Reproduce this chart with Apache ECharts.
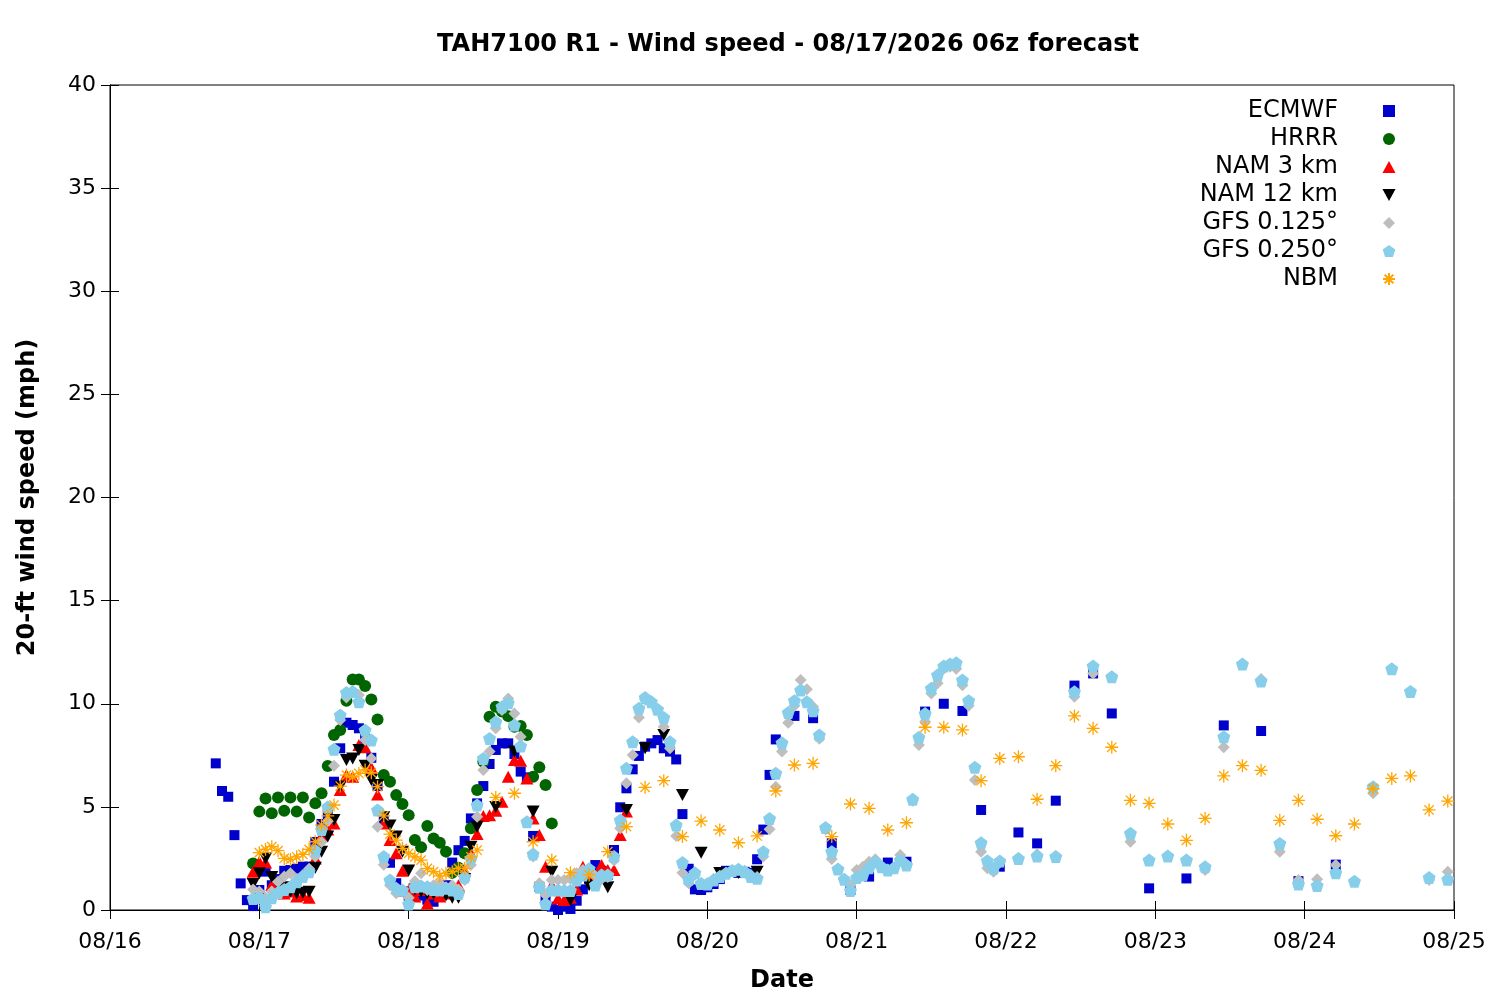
<!DOCTYPE html>
<html>
<head>
<meta charset="utf-8">
<script src="https://cdn.jsdelivr.net/npm/echarts@6/dist/echarts.min.js"></script>
<style>
  html, body { margin: 0; padding: 0; background: #fff; }
  #chart { width: 1500px; height: 1000px; }
</style>
</head>
<body>
<div id="chart"></div>
<script>
// hours counted from 08/16 00:00 local
var tickLabels = ['08/16', '08/17', '08/18', '08/19', '08/20', '08/21', '08/22', '08/23', '08/24', '08/25'];

// ECMWF: hourly from h17, 3-hourly from h110, 6-hourly from h167
var ecmwfHourly = [
  7.11, 5.77, 5.49, 3.63, 1.29, 0.48, 0.19, 0.97, 1.86, 1.2,
  1.5, 1.9, 1.94, 2.0, 2.1, 2.1, 3.3, 4.17, 4.65, 6.22,
  7.84, 9.08, 8.97, 8.81, 8.3, 7.38, 6.01, 4.3, 2.29, 1.3,
  0.9, 0.7, 0.97, 0.7, 0.5, 0.4, 0.9, 1.2, 2.3, 2.9,
  3.35, 4.44, 5.17, 6.01, 7.08, 7.76, 8.08, 8.08, 7.56, 6.71,
  6.43, 3.59, 1.13, 0.6, 0.16, 0.0, 0.16, 0.05, 0.45, 1.0,
  1.5, 2.18, 1.9, 1.7, 2.91, 4.98, 5.9, 6.82, 7.47, 7.92,
  8.08, 8.24, 7.84, 7.68, 7.3, 4.65, 2.0, 1.0, 0.97, 1.1,
  1.26, 1.5, 1.9, 1.85, 1.8, 1.85, 1.8, 2.46, 3.9, 6.55,
  8.27
];
var ecmwf3h = [9.41, 9.3, 3.23, 0.97, 1.62, 2.3, 2.34, 9.62, 10.0, 9.65, 4.85, 2.1, 3.76, 3.23, 5.3, 10.88, 11.47, 9.53];
var ecmwf6h = [1.05, 1.53, 8.95, 8.68, 1.4, 2.2];

// HRRR: hourly from h23
var hrrrHourly = [
  2.26, 4.77, 5.41, 4.69, 5.46, 4.81, 5.46, 4.77, 5.46, 4.49,
  5.17, 5.66, 6.98, 8.48, 8.73, 10.15, 11.18, 11.18, 10.86, 10.21,
  9.24, 6.54, 6.22, 5.57, 5.14, 4.6, 3.39, 3.04, 4.07, 3.47,
  3.26, 2.83, 1.8, 2.05, 2.75, 3.96, 5.82, 7.19, 9.37, 9.86,
  9.62, 9.4, 8.89, 8.92, 8.48, 6.46, 6.92, 6.06, 4.2
];

// NAM 3 km: hourly from h23
var nam3Hourly = [
  1.86, 2.34, 2.3, 1.21, 0.9, 0.8, 0.9, 0.65, 0.73, 0.6,
  2.5, 3.6, 3.9, 4.2, 5.82, 6.54, 6.46, 8.0, 7.89, 6.9,
  5.6, 4.2, 3.4, 2.75, 1.9, 0.97, 0.65, 0.97, 0.32, 0.8,
  0.65, 0.8, 0.9, 1.2, 1.9, 2.75, 3.68, 4.56, 4.6, 4.81,
  5.25, 6.46, 7.27, 7.24, 6.38, 4.44, 3.64, 2.1, 1.2, 0.56,
  0.48, 0.6, 1.0, 2.1, 1.78, 1.6, 2.18, 1.94, 1.94, 3.64,
  4.77
];

// NAM 12 km: hourly from h23, 3-hourly from h62
var nam12Hourly = [
  1.26, 1.78, 2.5, 1.6, 1.3, 1.1, 0.9, 0.81, 0.84, 0.89,
  2.05, 2.83, 3.56, 4.36, 5.98, 7.27, 7.35, 7.76, 7.0, 6.3,
  6.06, 4.5, 4.1, 3.56, 2.83, 1.92, 1.0, 0.9, 0.8, 0.8,
  0.9, 0.7, 0.6, 0.6, 1.5, 3.07, 4.04
];
var nam12_3h = [5.0, 7.68, 4.77, 1.86, 0.48, 1.2, 1.1, 4.85, 7.84, 8.48, 5.58, 2.78, 1.8, 1.8, 1.86];

// GFS 0.125: hourly from h23, 3-hourly from h146
var gfs125Hourly = [
  1.0, 0.9, 0.6, 0.9, 1.37, 1.62, 1.78, 1.5, 1.7, 2.0,
  2.6, 3.3, 4.3, 7.0, 9.21, 10.3, 10.6, 10.42, 8.24, 7.35,
  4.04, 2.2, 1.2, 0.81, 0.9, 0.6, 1.4, 1.78, 0.97, 1.2,
  1.3, 1.1, 1.2, 1.0, 1.45, 2.18, 4.52, 6.79, 7.68, 8.81,
  9.7, 10.26, 9.53, 8.4, 4.28, 2.59, 1.3, 0.73, 1.45, 1.45,
  1.45, 1.5, 1.78, 1.94, 1.94, 1.62, 1.5, 1.6, 2.4, 3.96,
  6.14, 7.52, 9.33, 10.2, 10.1, 9.73, 8.89, 7.84, 3.59, 1.81,
  1.3, 1.7, 1.3, 1.3, 1.5, 1.65, 1.8, 1.9, 1.95, 1.9,
  1.7, 1.6, 2.59, 3.91, 5.98, 7.68, 9.08, 9.9, 11.15, 10.7,
  9.85, 8.3, 3.9, 2.47, 1.99, 1.49, 1.21, 1.94, 2.1, 2.34,
  2.46, 2.1, 1.94, 2.05, 2.67, 2.2, 5.3, 8.0, 9.13, 10.5,
  11.0, 11.7, 11.8, 11.7, 10.9, 9.9, 6.3, 2.83, 2.02, 1.86,
  2.3
];
var gfs125_3h = [2.5, 2.7, 2.6, 10.34, 11.47, 11.31, 3.31, 2.42, 2.62, 2.42, 1.94, 7.89, 11.93, 11.2, 2.83, 1.45, 1.49, 2.18, 1.39, 5.66, 11.7, 10.6, 1.45, 1.86];

// GFS 0.250: hourly from h23, 3-hourly from h146
var gfs250Hourly = [
  0.56, 0.6, 0.16, 0.6, 0.85, 1.0, 1.13, 1.37, 1.62, 1.86,
  2.9, 3.9, 5.0, 7.8, 9.45, 10.54, 10.59, 10.1, 8.73, 8.24,
  4.85, 2.59, 1.45, 1.05, 0.97, 0.29, 1.13, 1.16, 1.13, 1.0,
  0.97, 1.05, 0.97, 0.8, 1.6, 2.5, 5.09, 7.35, 8.32, 9.13,
  9.86, 10.05, 8.97, 7.95, 4.28, 2.71, 1.1, 0.3, 0.97, 0.97,
  0.94, 0.94, 1.45, 1.7, 2.0, 1.21, 1.7, 1.7, 2.59, 4.36,
  6.87, 8.16, 9.78, 10.3, 10.1, 9.73, 9.33, 8.16, 4.12, 2.3,
  1.49, 1.81, 1.29, 1.26, 1.45, 1.62, 1.78, 1.91, 1.97, 1.86,
  1.62, 1.54, 2.83, 4.44, 6.63, 8.11, 9.57, 10.15, 10.67, 10.1,
  9.66, 8.48, 4.0, 2.83, 1.99, 1.49, 0.94, 1.58, 1.7, 2.05,
  2.34, 2.1, 1.94, 2.05, 2.42, 2.18, 5.37, 8.37, 9.53, 10.75,
  11.39, 11.83, 11.93, 11.99, 11.15, 10.15, 6.92, 3.26, 2.39, 2.02,
  2.37
];
var gfs250_3h = [2.5, 2.62, 2.59, 10.58, 11.83, 11.31, 3.72, 2.42, 2.62, 2.42, 2.1, 8.4, 11.93, 11.1, 3.23, 1.26, 1.19, 1.81, 1.39, 5.98, 11.7, 10.6, 1.58, 1.49];

// NBM: hourly from h24, 3-hourly from h62
var nbmHourly = [
  2.78, 2.94, 3.07, 2.88, 2.5, 2.45, 2.58, 2.7, 2.94, 3.31,
  4.12, 4.56, 5.09, 6.01, 6.54, 6.46, 6.62, 6.79, 6.66, 5.98,
  4.56, 3.68, 3.39, 2.99, 2.75, 2.58, 2.42, 2.02, 1.86, 1.65,
  1.78, 1.86, 2.02, 2.02, 2.58, 2.9
];
var nbm3h = [
  5.46, 5.66, 3.31, 2.42, 1.81, 1.7, 2.83, 4.04, 5.95, 6.27,
  3.56, 4.31, 3.88, 3.26, 3.59, 5.77, 7.03, 7.11, 3.56, 5.14,
  4.93, 3.88, 4.23, 8.86, 8.86, 8.73, 6.27, 7.35, 7.43, 5.37,
  7.0, 9.41, 8.81, 7.89, 5.32, 5.17, 4.17, 3.38, 4.44, 6.5,
  7.0, 6.77, 4.35, 5.32, 4.4, 3.6, 4.17, 5.88, 6.38, 6.5,
  4.85, 5.28
];

function seg(start, step, vals) {
  return vals.map(function (v, i) { return [start + i * step, v]; });
}

var FONT = 'DejaVu Sans';
// point shapes as paths so the legend keeps their aspect
var square = 'path://M-5,-5L5,-5L5,5L-5,5Z';
var upTri = 'path://M0,-6L6,5L-6,5Z';
var downTri = 'path://M-6,-5L6,-5L0,6Z';
var diamond = 'path://M0,-6L6,0L0,6L-6,0Z';
var pentagon = 'path://M0,-10L9.51,-3.09L5.88,8.09L-5.88,8.09L-9.51,-3.09Z';
var asterisk = 'path://M-6,0L6,0M0,-6L0,6M-4.3,-4.3L4.3,4.3M-4.3,4.3L4.3,-4.3';

var chart = echarts.init(document.getElementById('chart'));

var option = {
  backgroundColor: '#fff',
  animation: false,
  textStyle: { fontFamily: FONT },
  title: {
    text: 'TAH7100 R1 - Wind speed - 08/17/2026 06z forecast',
    left: 783,
    textAlign: 'center',
    top: 28,
    textStyle: { fontFamily: FONT, fontSize: 24, fontWeight: 'bold', color: '#000' }
  },
  legend: {
    orient: 'vertical',
    align: 'right',
    right: 99,
    top: 92,
    itemWidth: 92,
    itemHeight: 12,
    itemGap: 0,
    symbolKeepAspect: true,
    selectedMode: false,
    textStyle: { fontFamily: FONT, fontSize: 24, color: '#000', width: 200, lineHeight: 28 },
    data: ['ECMWF', 'HRRR', 'NAM 3 km', 'NAM 12 km', 'GFS 0.125°', 'GFS 0.250°', 'NBM']
  },
  grid: { left: 110, top: 85, width: 1344, height: 825, show: true, borderColor: '#000', borderWidth: 1 },
  xAxis: [{
    type: 'value', min: 0, max: 216, interval: 24,
    name: 'Date', nameLocation: 'middle', nameGap: 59,
    nameTextStyle: { fontFamily: FONT, fontSize: 24, fontWeight: 'bold', color: '#000' },
    axisLine: { lineStyle: { color: '#000', width: 1 } },
    axisTick: { inside: true, length: 9, lineStyle: { color: '#000' } },
    axisLabel: {
      fontFamily: FONT, fontSize: 22, color: '#000', margin: 21,
      formatter: function (v) { return tickLabels[Math.round(v / 24)]; }
    },
    splitLine: { show: false }
  }, {
    type: 'value', min: 0, max: 216, interval: 24, position: 'top',
    axisLine: { lineStyle: { color: '#000' } },
    axisTick: { inside: true, length: 9, lineStyle: { color: '#000' } },
    axisLabel: { show: false }, splitLine: { show: false }
  }],
  yAxis: [{
    type: 'value', min: 0, max: 40, interval: 5,
    name: '20-ft wind speed (mph)', nameLocation: 'middle', nameGap: 70,
    nameTextStyle: { fontFamily: FONT, fontSize: 24, fontWeight: 'bold', color: '#000' },
    axisLine: { show: true, lineStyle: { color: '#000', width: 1 } },
    axisTick: { show: true, inside: true, length: 9, lineStyle: { color: '#000' } },
    axisLabel: { fontFamily: FONT, fontSize: 22, color: '#000', margin: 14 },
    splitLine: { show: false }
  }, {
    type: 'value', min: 0, max: 40, interval: 5, position: 'right',
    axisLine: { show: true, lineStyle: { color: '#000' } },
    axisTick: { show: true, inside: true, length: 9, lineStyle: { color: '#000' } },
    axisLabel: { show: false }, splitLine: { show: false }
  }],
  series: [
    {
      name: 'ECMWF', type: 'scatter', symbol: square, symbolSize: 10,
      itemStyle: { color: '#0000cd', opacity: 1 },
      data: seg(17, 1, ecmwfHourly).concat(seg(110, 3, ecmwf3h), seg(167, 6, ecmwf6h))
    },
    {
      name: 'HRRR', type: 'scatter', symbol: 'circle', symbolSize: 12,
      itemStyle: { color: '#006400', opacity: 1 },
      data: seg(23, 1, hrrrHourly)
    },
    {
      name: 'NAM 3 km', type: 'scatter', symbol: upTri, symbolSize: [13, 12],
      itemStyle: { color: '#ff0000', opacity: 1 },
      data: seg(23, 1, nam3Hourly)
    },
    {
      name: 'NAM 12 km', type: 'scatter', symbol: downTri, symbolSize: [13, 12],
      itemStyle: { color: '#000000', opacity: 1 },
      data: seg(23, 1, nam12Hourly).concat(seg(62, 3, nam12_3h))
    },
    {
      name: 'GFS 0.125°', type: 'scatter', symbol: diamond, symbolSize: 12,
      itemStyle: { color: '#bebebe', opacity: 1 },
      data: seg(23, 1, gfs125Hourly).concat(seg(146, 3, gfs125_3h))
    },
    {
      name: 'GFS 0.250°', type: 'scatter', symbol: pentagon, symbolSize: 13,
      itemStyle: { color: '#87ceeb', opacity: 1 },
      data: seg(23, 1, gfs250Hourly).concat(seg(146, 3, gfs250_3h))
    },
    {
      name: 'NBM', type: 'scatter', symbol: asterisk, symbolSize: 13,
      itemStyle: { color: '#ffa500', borderColor: '#ffa500', borderWidth: 1.3, opacity: 1 },
      data: seg(24, 1, nbmHourly).concat(seg(62, 3, nbm3h))
    }
  ]
};

chart.setOption(option);
</script>
</body>
</html>
